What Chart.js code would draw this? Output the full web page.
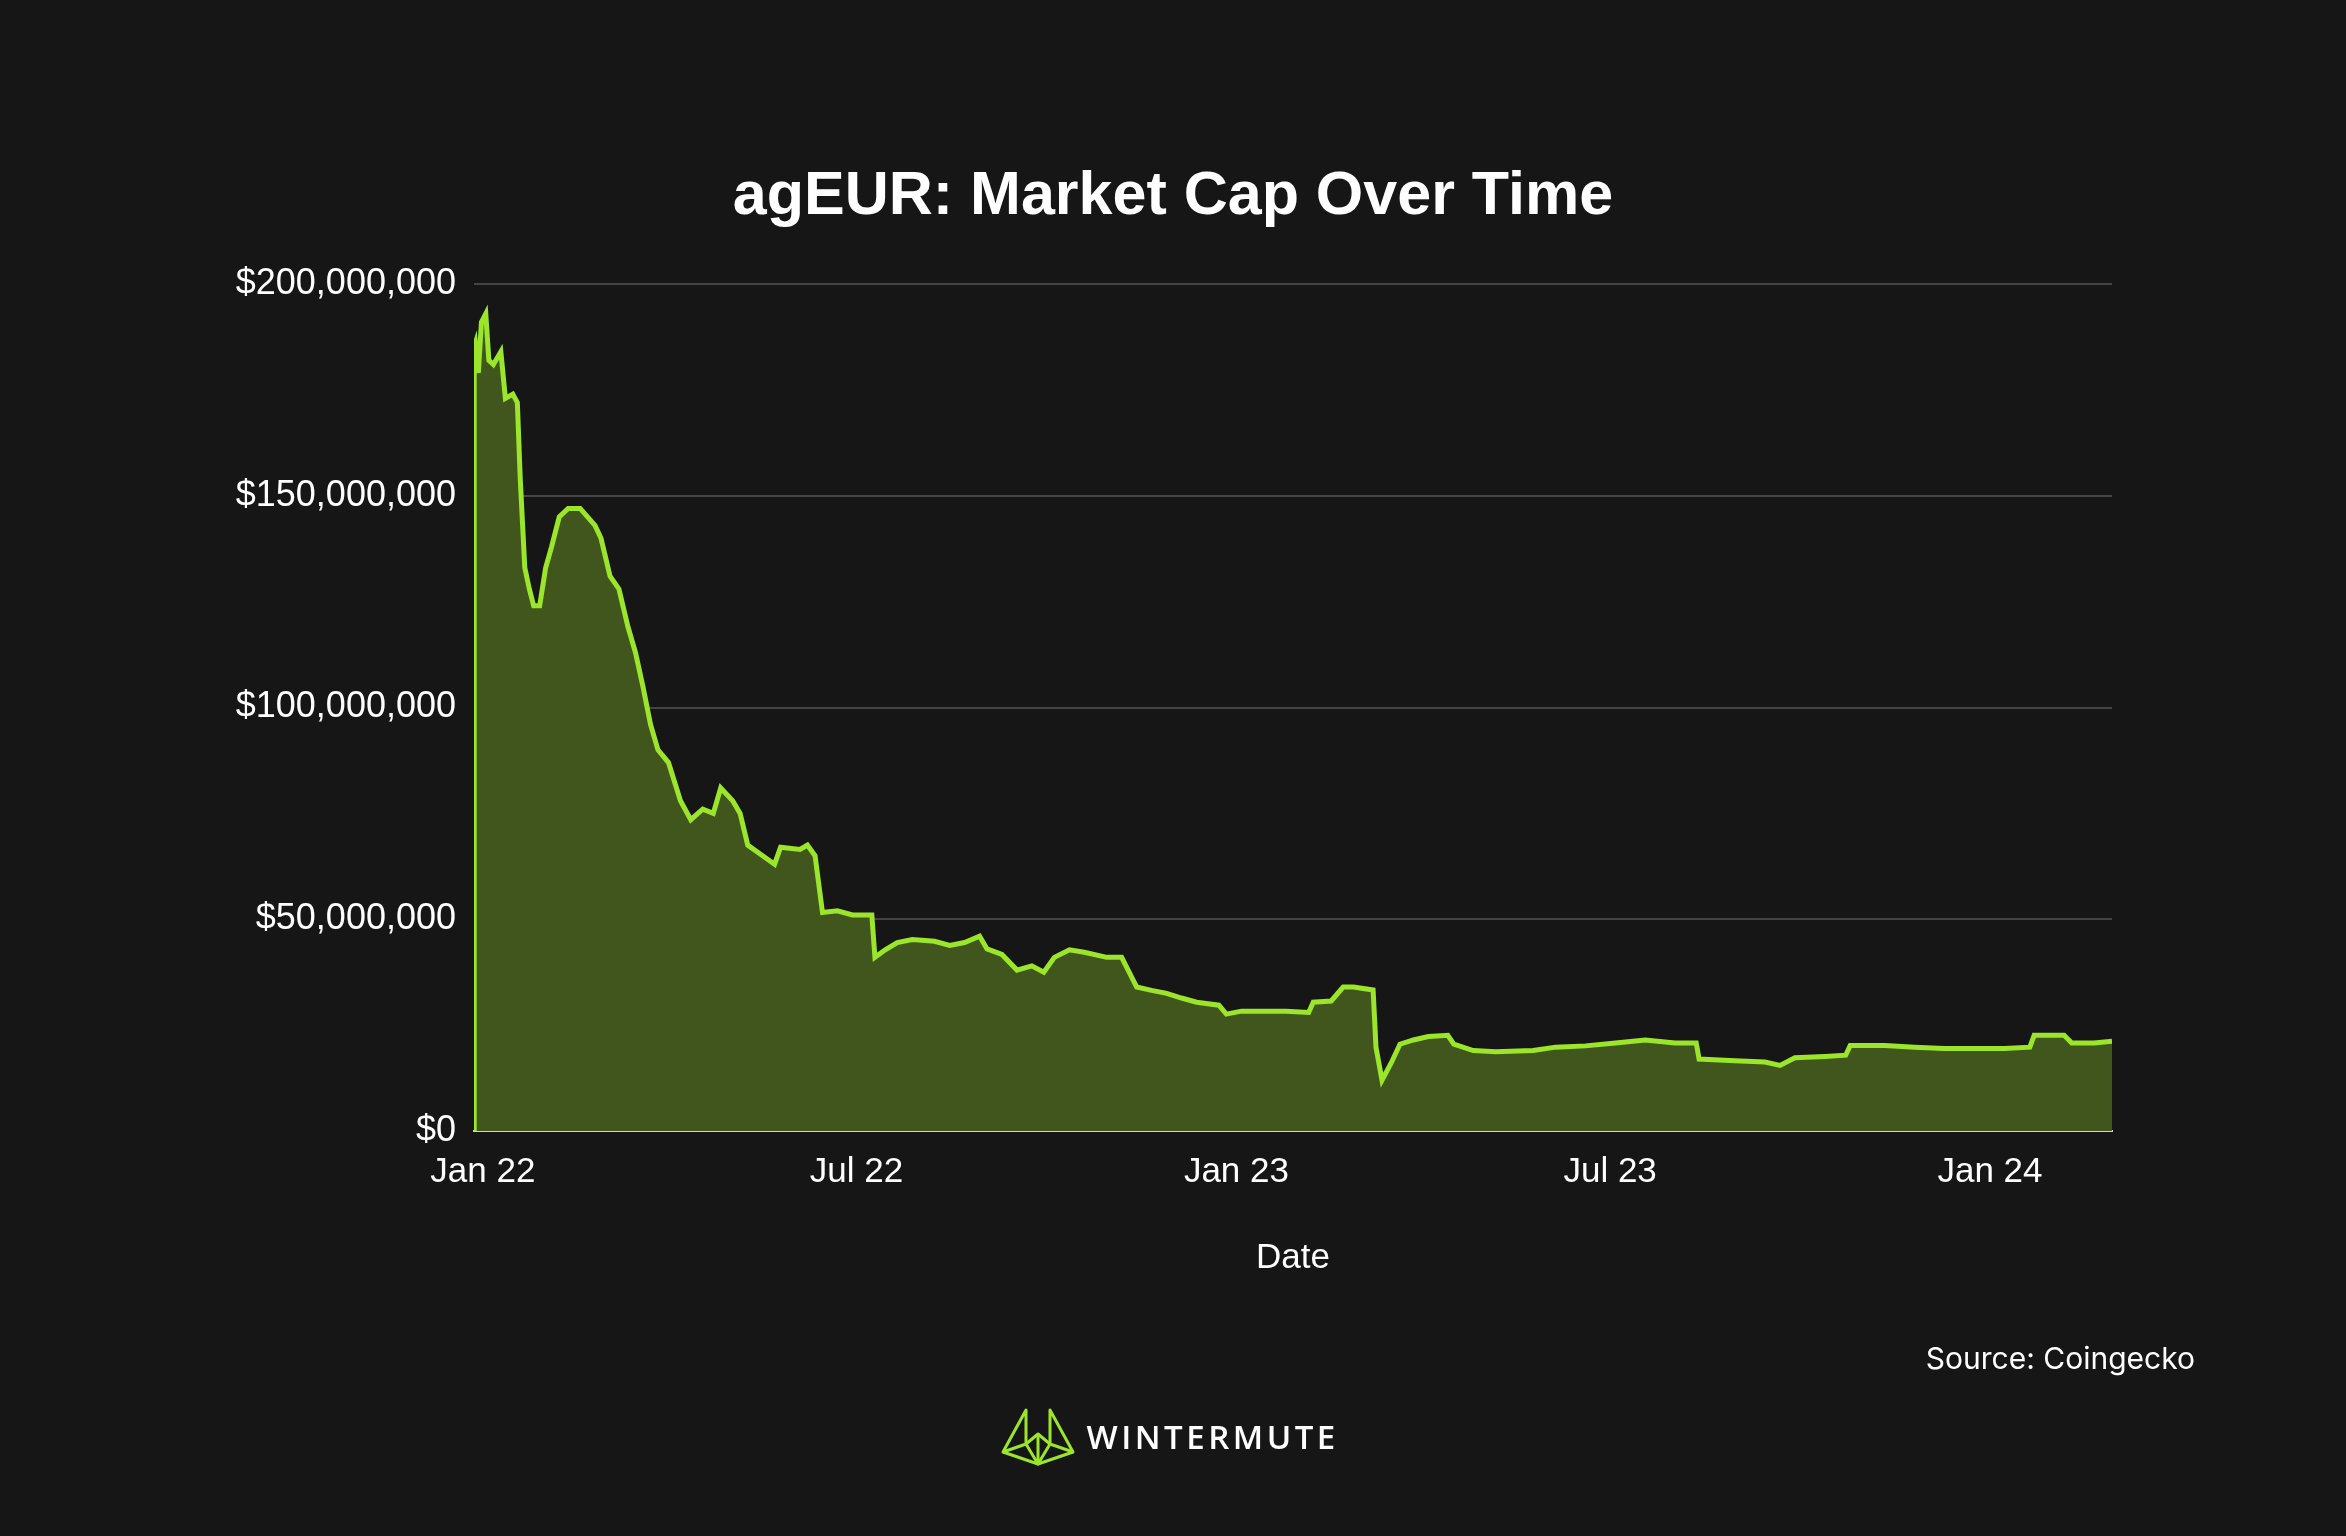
<!DOCTYPE html>
<html><head><meta charset="utf-8">
<script src="https://cdn.jsdelivr.net/npm/chart.js@4/dist/chart.umd.min.js"></script>
<style>
html,body{margin:0;padding:0;background:#161616;width:2346px;height:1536px;overflow:hidden;font-family:Inter,"Liberation Sans",Arial,sans-serif;}
#wrap{position:absolute;left:0;top:0;width:2346px;height:1536px;}
.t{position:absolute;color:#fff;white-space:nowrap;}
</style></head><body>
<div id="wrap"><canvas id="c" width="2346" height="1536"></canvas></div>
<div class="t" style="left:1173px;transform:translateX(-50%);top:158px;font:bold 61px 'Liberation Sans',Arial,sans-serif;">agEUR: Market Cap Over Time</div>
<div class="t" style="left:1293px;top:1236px;font:35px 'Liberation Sans',Arial,sans-serif;transform:translateX(-50%);">Date</div>
<div class="t" style="right:151px;top:1340px;font:30px Inter,sans-serif;">Source: Coingecko</div>
<div class="t" style="left:1000px;top:1406px;">
<svg width="76" height="60" viewBox="0 0 76 60" style="vertical-align:middle">
<g fill="none" stroke="#9be52a" stroke-width="3" stroke-linejoin="round">
<path d="M26 4 L26 38 L3 46 Z"/><path d="M50 4 L50 38 L73 46 Z"/>
<path d="M3 46 L38 58 L73 46"/><path d="M26 38 L38 28 L50 38 L38 58 Z"/><path d="M38 28 L38 58"/>
</g></svg>
<span style="font:600 33px 'Open Sans',sans-serif;letter-spacing:3.5px;vertical-align:middle;margin-left:6px;">WINTERMUTE</span></div>
<script>
const days = [-4.3,-4.2,-3.6,-2.2,-0.7,1.4,2.9,5.1,8.7,10.9,14.5,16.7,18.1,20.3,22.5,24.6,27.5,30.4,33.3,37,41.3,47.1,50.7,54.3,57.2,61.6,65.9,70.3,73.9,77.5,81.2,84.8,89.9,95.7,100.7,106.5,111.6,115.2,121,124.6,128.3,135.5,141.3,144.2,153.6,157.2,160.9,164.5,171.7,179,188.4,189.9,194.9,200.7,208,218.8,226.1,233.3,240.6,244.2,251.4,258.7,265.9,271.7,276.8,284.1,291.3,302.2,309.4,316.7,323.9,331.2,338.4,345.7,356.5,360.1,367.4,378.3,389.1,400,402.2,410.9,416.7,421.7,431.2,432.6,435.5,439.9,444.2,450.7,458,467.4,470.3,479.7,490.6,508.7,519.6,534.1,548.6,563,577.5,587.7,589.1,606.5,621,628.3,635.5,650,660.1,662.3,679,693.5,707.9,736.9,749.3,751.4,765.9,769.6,780.4,789.1];
const marketCap = [0,185,186,179,191,193,182,181,184,173,174,172,154,133,128,124,124,133,138,145,147,147,145,143,140,131,128,119,113,105,96,90,87,78,73.5,76,75,81,78,75,67.5,65,63,67,66.5,67.5,65,51.6,52,51,51,41,42.8,44.5,45.2,44.8,43.8,44.5,46,43,41.7,38,39,37.5,41,42.8,42.2,41,41,34,33.2,32.5,31.4,30.4,29.7,27.6,28.3,28.3,28.3,28,30.4,30.7,34,34,33.3,19.8,12,16,20.5,21.5,22.3,22.6,20.5,19,18.7,19,19.8,20.1,20.8,21.5,20.8,20.8,17,16.6,16.3,15.5,17.3,17.6,17.9,20.2,20.2,19.8,19.5,19.5,19.8,22.6,22.6,20.8,20.8,21.2];
const tickDays = [0,181,365,546,730];
const tickLabels = ["Jan 22","Jul 22","Jan 23","Jul 23","Jan 24"];
const yTicks = [0,50,100,150,200];

new Chart(document.getElementById('c'), {
  type:'line',
  data:{datasets:[{data:days.map((d,i)=>({x:d,y:marketCap[i]*1e6})),
    borderColor:'#9be52a',borderWidth:5,backgroundColor:'#41561d',fill:'origin',pointRadius:0,tension:0}]},
  options:{responsive:false,animation:false,
    layout:{padding:{top:284,right:234,left:0,bottom:0}},
    plugins:{legend:{display:false},tooltip:{enabled:false}},
    scales:{
      x:{type:'linear',min:-4.3,max:789.1,
        afterBuildTicks:a=>{a.ticks=tickDays.map(v=>({value:v}));},
        afterFit:a=>{a.height=405;},
        ticks:{color:'#fff',font:{size:35,family:"'Liberation Sans',Arial"},padding:12,maxRotation:0,autoSkip:false,
          callback:v=>tickLabels[tickDays.indexOf(v)]||''},
        grid:{display:false},border:{display:true,color:'#cfd8c4',width:2}},
      y:{min:0,max:200e6,
        afterBuildTicks:a=>{a.ticks=yTicks.map(v=>({value:v*1e6}));},
        afterFit:a=>{a.width=474;},
        ticks:{color:'#fff',font:{size:36,family:"'Liberation Sans',Arial"},padding:18,
          callback:v=>'$'+Number(v).toLocaleString('en-US')},
        grid:{color:'#444',lineWidth:2,drawTicks:false},border:{display:false}}
    }}
});
</script></body></html>
